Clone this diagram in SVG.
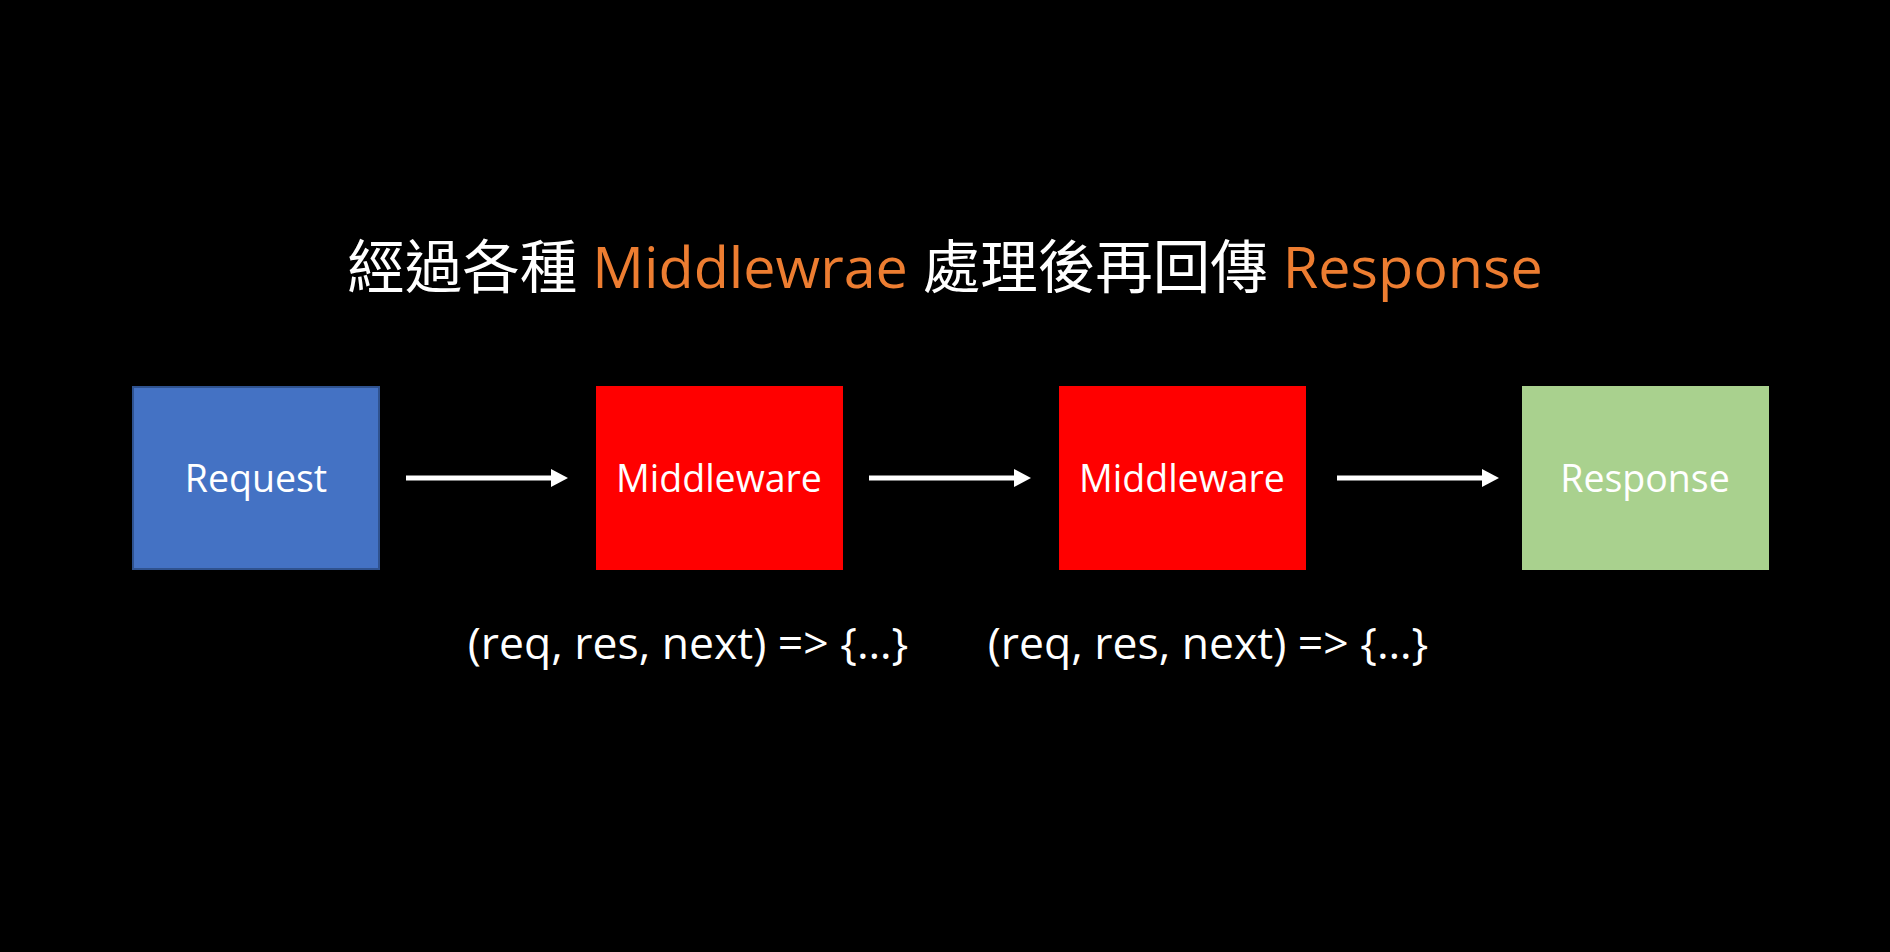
<svg xmlns="http://www.w3.org/2000/svg" width="1890" height="952" viewBox="0 0 1890 952">
  <style>
    .lbl { font-family: "Open Sans", "Noto Sans CJK TC", sans-serif; fill: #ffffff; text-anchor: middle; }
    .box-label { font-size: 37.5px; }
    .code { font-size: 44.5px; }
    .title { font-family: "Open Sans", "Noto Sans CJK TC", sans-serif; font-size: 57.5px; fill: #ffffff; text-anchor: middle; }
    .hl { fill: #ED7D31; }
    .conn { stroke: #ffffff; stroke-width: 5; fill: none; marker-end: url(#arrow); }
  </style>
  <defs>
    <marker id="arrow" markerUnits="userSpaceOnUse" markerWidth="17" markerHeight="18" refX="2" refY="9" orient="auto">
      <path d="M0,0 L17,9 L0,18 Z" fill="#ffffff"/>
    </marker>
  </defs>
  <rect width="1890" height="952" fill="#000000"/>

  <g id="title">
    <text class="title" x="945" y="288">經過各種 <tspan class="hl">Middlewrae</tspan> 處理後再回傳 <tspan class="hl">Response</tspan></text>
  </g>

  <g id="node-request">
    <rect x="133" y="387" width="246" height="182" fill="#4472C4" stroke="#2F528F" stroke-width="2"/>
    <text class="lbl box-label" x="256" y="492">Request</text>
  </g>

  <g id="node-middleware-1">
    <rect x="596" y="386" width="247" height="184" fill="#FF0000"/>
    <text class="lbl box-label" x="719" y="492">Middleware</text>
  </g>

  <g id="node-middleware-2">
    <rect x="1059" y="386" width="247" height="184" fill="#FF0000"/>
    <text class="lbl box-label" x="1182" y="492">Middleware</text>
  </g>

  <g id="node-response">
    <rect x="1522" y="386" width="247" height="184" fill="#A9D18E"/>
    <text class="lbl box-label" x="1645" y="492">Response</text>
  </g>

  <g id="code-labels">
    <text class="lbl code" x="688" y="659">(req, res, next) =&gt; {…}</text>
    <text class="lbl code" x="1208" y="659">(req, res, next) =&gt; {…}</text>
  </g>

  <g id="connectors">
    <path class="conn" d="M406,478 L553,478"/>
    <path class="conn" d="M869,478 L1016,478"/>
    <path class="conn" d="M1337,478 L1484,478"/>
  </g>
</svg>
